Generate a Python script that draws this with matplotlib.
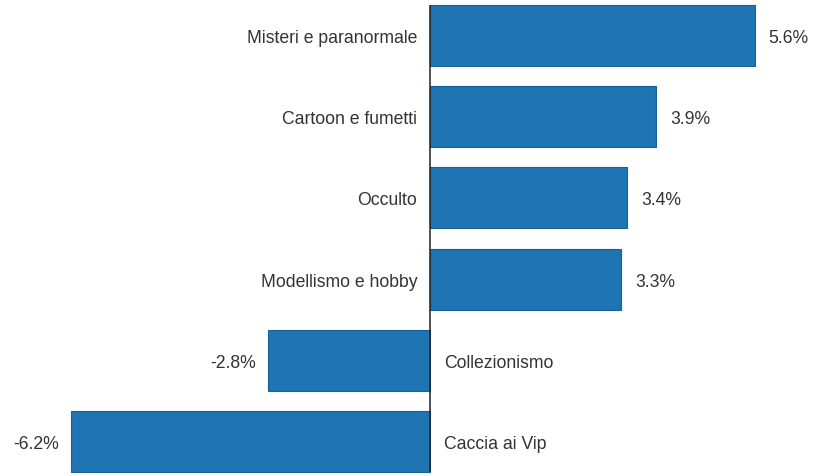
import matplotlib.pyplot as plt

categorie = ['Misteri e paranormale', 'Cartoon e fumetti', 'Occulto',
             'Modellismo e hobby', 'Collezionismo', 'Caccia ai Vip']
valori = [5.6, 3.9, 3.4, 3.3, -2.8, -6.2]
etichette = ['5.6%', '3.9%', '3.4%', '3.3%', '-2.8%', '-6.2%']

blu = '#1f74b4'
testo = '#333333'
plt.rcParams['font.family'] = ['Liberation Sans', 'DejaVu Sans']

fig = plt.figure(figsize=(8.13, 4.77), dpi=100)
ax = fig.add_axes([0, 0, 1, 1])

pos = list(range(len(categorie)))
ax.barh(pos, valori, height=0.75, color=blu, edgecolor='#1a5f95', linewidth=0.8)
ax.vlines(0, -0.375, len(pos) - 1 + 0.375, color='#222222', linewidth=1.1)

fs = 12.7
for y, v, cat, lab in zip(pos, valori, categorie, etichette):
    if v >= 0:
        ax.annotate(cat, (0, y), xytext=(-13, -2), textcoords='offset pixels',
                    ha='right', va='center', fontsize=fs, color=testo)
        ax.annotate(lab, (v, y), xytext=(14, -2), textcoords='offset pixels',
                    ha='left', va='center', fontsize=fs, color=testo)
    else:
        ax.annotate(cat, (0, y), xytext=(14, -2), textcoords='offset pixels',
                    ha='left', va='center', fontsize=fs, color=testo)
        ax.annotate(lab, (v, y), xytext=(-12, -2), textcoords='offset pixels',
                    ha='right', va='center', fontsize=fs, color=testo)

ax.set_xlim(-7.43, 6.61)
ax.set_ylim(5.425, -0.45)
ax.axis('off')

fig.savefig('out.png', dpi=100)
